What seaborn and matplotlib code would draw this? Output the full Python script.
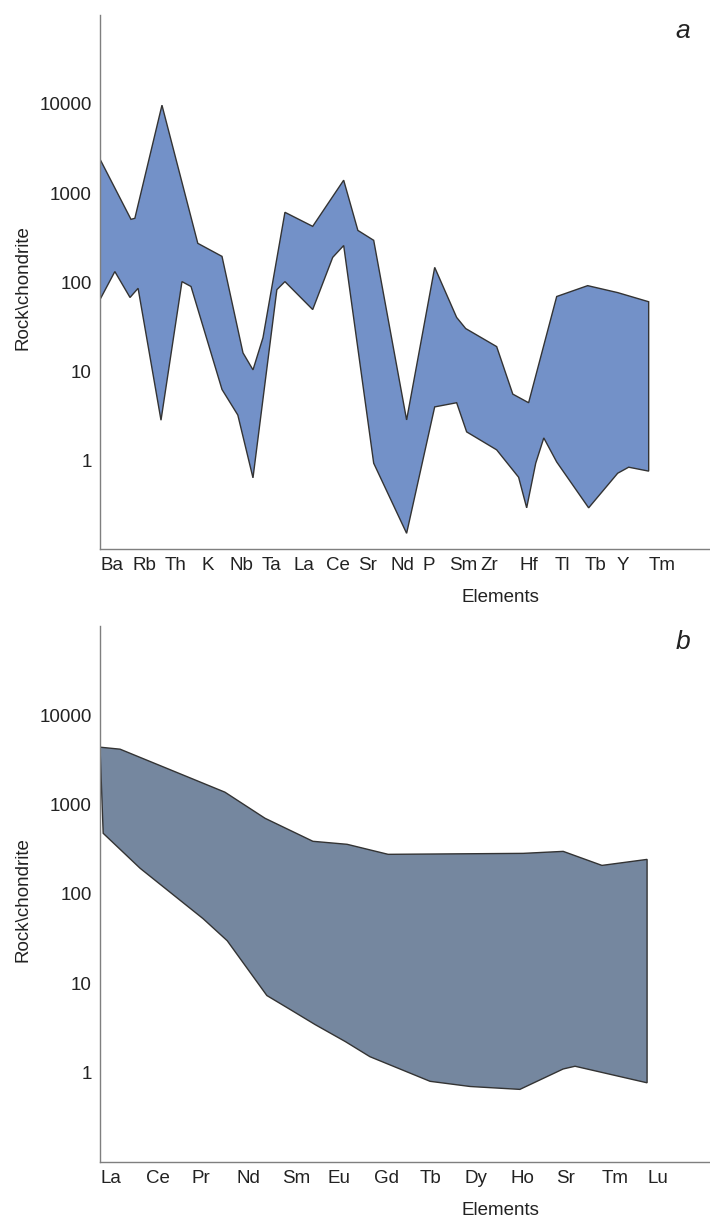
import numpy as np
import pandas as pd
import matplotlib
matplotlib.use("Agg")
import matplotlib.pyplot as plt
import seaborn as sns

# ---------------- data ----------------
# Panel a: spider diagram (positions are in category units, 0 = Ba)
elements_a = ["Ba", "Rb", "Th", "K", "Nb", "Ta", "La", "Ce", "Sr", "Nd",
              "P", "Sm", "Zr", "Hf", "Tl", "Tb", "Y", "Tm"]
tickpos_a = [0, 1, 2, 3.15, 4, 5, 6, 7, 8, 9, 10, 10.83, 11.8, 13, 14.1,
             15, 16, 17]
upper_a_x = [0.00, 0.96, 1.08, 1.92, 3.03, 3.78, 4.43, 4.74, 5.05, 5.73,
             6.59, 7.55, 7.99, 8.48, 9.50, 10.37, 11.05, 11.33, 12.29,
             12.79, 13.28, 14.15, 15.11, 16.04, 17.00]
upper_a_y = [2400, 506, 520, 9700, 272, 194, 16, 10.3, 23.7, 607,
             422, 1393, 380, 294, 2.82, 146, 40, 30, 18.8,
             5.5, 4.4, 68.7, 91, 76, 60]
lower_a_x = [0.00, 0.46, 0.93, 1.18, 1.89, 2.54, 2.82, 3.78, 4.27, 4.74,
             5.48, 5.73, 6.59, 7.21, 7.55, 8.48, 9.50, 10.37, 11.05, 11.36,
             12.29, 12.97, 13.22, 13.50, 13.75, 14.15, 15.14, 16.04, 16.38, 17.00]
lower_a_y = [63.5, 131, 67, 85, 2.8, 101, 89, 6.2, 3.2, 0.63,
             82, 101, 49, 189, 257, 0.92, 0.15, 3.95, 4.4, 2.07,
             1.30, 0.64, 0.29, 0.92, 1.77, 0.95, 0.29, 0.71, 0.83, 0.75]

# Panel b: REE diagram (positions in category units, 0 = La)
elements_b = ["La", "Ce", "Pr", "Nd", "Sm", "Eu", "Gd", "Tb", "Dy", "Ho",
              "Sr", "Tm", "Lu"]
tickpos_b = list(range(13))
upper_b_x = [0.00, 0.44, 2.74, 3.62, 4.67, 5.42, 6.32, 9.28, 10.16, 11.01, 12.00]
upper_b_y = [4400, 4180, 1380, 704, 389, 360, 278, 285, 300, 209, 244]
lower_b_x = [0.07, 0.88, 2.26, 2.79, 3.66, 4.17, 4.72, 5.38, 5.92, 7.24,
             8.12, 9.21, 10.16, 10.42, 12.00]
lower_b_y = [478, 194, 53, 30, 7.3, 5.1, 3.45, 2.23, 1.51, 0.80,
             0.70, 0.65, 1.10, 1.18, 0.77]

yticks = [1, 10, 100, 1000, 10000]
ytick_labels = ["1", "10", "100", "1000", "10000"]

# ---------------- style ----------------
sns.set_theme(style="white")
plt.rcParams["font.family"] = ["Liberation Sans", "DejaVu Sans"]

fig = plt.figure(figsize=(7.10, 12.18), dpi=100)
ax_a = fig.add_axes([100 / 710, 1 - 549 / 1218, 610 / 710, 534 / 1218])
ax_b = fig.add_axes([100 / 710, 1 - 1162 / 1218, 610 / 710, 536 / 1218])


def envelope(ax, ux, uy, lx, ly, color):
    df = pd.DataFrame({
        "x": list(ux) + list(lx)[::-1],
        "y": list(uy) + list(ly)[::-1],
    })
    ax.fill(df["x"], df["y"], facecolor=color, edgecolor="#333333",
            linewidth=1.0, zorder=2)


def style_axes(ax, labels, ticks, xmax, ylim, letter):
    ax.set_yscale("log")
    ax.set_ylim(*ylim)
    ax.set_xlim(0, xmax)
    ax.set_yticks(yticks)
    ax.set_yticklabels(ytick_labels)
    ax.yaxis.set_minor_locator(matplotlib.ticker.NullLocator())
    ax.set_xticks(ticks)
    ax.set_xticklabels(labels, ha="left")
    ax.tick_params(axis="both", length=0, labelsize=13.5, colors="#222222")
    ax.tick_params(axis="x", pad=6)
    ax.tick_params(axis="y", pad=6)
    for s in ["top", "right"]:
        ax.spines[s].set_visible(False)
    for s in ["left", "bottom"]:
        ax.spines[s].set_color("#7f7f7f")
        ax.spines[s].set_linewidth(1.0)
    ax.set_ylabel("Rock\\chondrite", fontsize=13.5, color="#222222")
    ax.yaxis.set_label_coords(-0.112, 0.49)
    ax.set_xlabel("Elements", fontsize=13.5, color="#222222")
    ax.xaxis.set_label_coords(0.656, -0.075)
    ax.text(0.955, 0.97, letter, transform=ax.transAxes, fontsize=19,
            fontstyle="italic", ha="center", va="center", color="#222222")


envelope(ax_a, upper_a_x, upper_a_y, lower_a_x, lower_a_y, "#7391c8")
style_axes(ax_a, elements_a, tickpos_a, 18.9, (0.1, 1.0e5), "a")

envelope(ax_b, upper_b_x, upper_b_y, lower_b_x, lower_b_y, "#75879f")
style_axes(ax_b, elements_b, tickpos_b, 13.38, (0.1, 1.0e5), "b")

fig.savefig("out.png", dpi=100)
